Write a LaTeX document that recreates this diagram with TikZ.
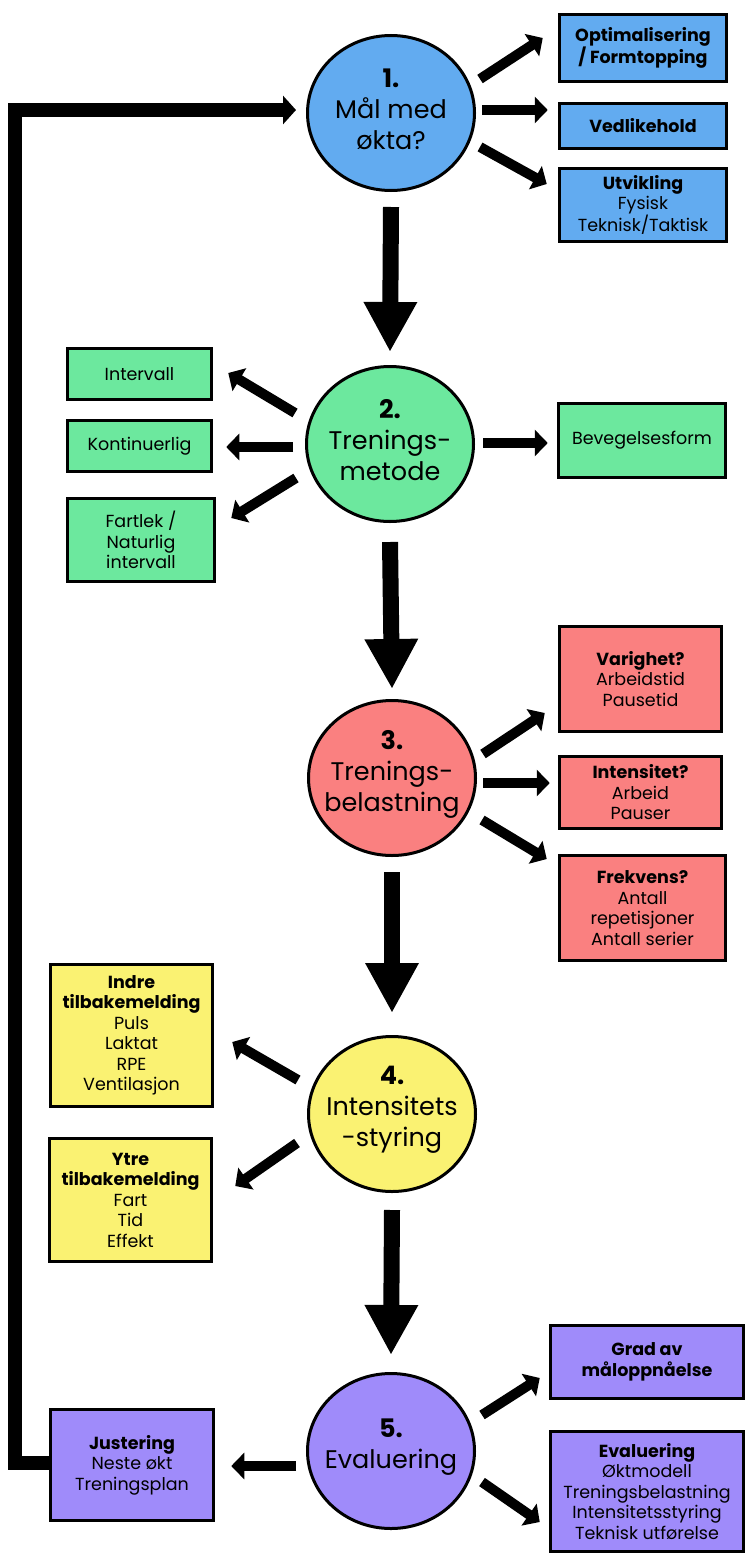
\documentclass[tikz,border=0pt]{standalone}
\usepackage{fontspec}
\setmainfont{Poppins}
\usetikzlibrary{arrows.meta,calc,shapes.geometric}
\definecolor{cblue}{RGB}{98,171,240}
\definecolor{cgreen}{RGB}{108,232,158}
\definecolor{cred}{RGB}{250,128,128}
\definecolor{cyellow}{RGB}{250,242,114}
\definecolor{cpurple}{RGB}{159,139,250}
\begin{document}
\begin{tikzpicture}[x=1pt,y=-1pt,
  circ/.style={ellipse,draw,line width=3pt,minimum width=167pt,minimum height=155pt,inner sep=0pt},
  ctext/.style={inner sep=0pt,align=center,yshift=4pt,font=\fontsize{25.5}{31}\selectfont},
  box/.style={draw,line width=3.5pt,inner sep=0pt,align=center,font=\fontsize{17.5}{20.5}\selectfont},
  bx/.style 2 args={minimum width=#1pt,minimum height=#2pt},
  arr/.style={line width=10pt,-{Triangle[length=13pt,width=26pt]}},
  bigarr/.style={line width=16pt,-{Triangle[length=50pt,width=50pt]}},
  looparr/.style={line width=14pt,line join=miter,-{Triangle[length=13pt,width=28pt]}}]
\useasboundingbox (0,0) rectangle (752,1555);
% circles
\node[circ,fill=cblue,label={[ctext]center:{\textbf{1.}\\Mål med\\økta?}}] (c1) at (391,113) {};
\node[circ,fill=cgreen,label={[ctext]center:{\textbf{2.}\\Trenings-\\metode}}] (c2) at (390,444) {};
\node[circ,fill=cred,label={[ctext]center:{\textbf{3.}\\Trenings-\\belastning}}] (c3) at (392,778) {};
\node[circ,fill=cyellow,label={[ctext]center:{\textbf{4.}\\Intensitets\\-styring}}] (c4) at (392,1114) {};
\node[circ,fill=cpurple,label={[ctext]center:{\textbf{5.}\\Evaluering}}] (c5) at (391,1451) {};
% blue boxes
\node[box,fill=cblue,bx={167}{67}] (b1) at (643,48) {\textbf{Optimalisering}\\\textbf{/ Formtopping}};
\node[box,fill=cblue,bx={167}{45}] (b2) at (643,126) {\textbf{Vedlikehold}};
\node[box,fill=cblue,bx={167}{73}] (b3) at (643,205) {\textbf{Utvikling}\\Fysisk\\Teknisk/Taktisk};
% green boxes
\node[box,fill=cgreen,bx={144}{51}] (g1) at (139.5,374) {Intervall};
\node[box,fill=cgreen,bx={144}{51}] (g2) at (139.5,446) {Kontinuerlig};
\node[box,fill=cgreen,bx={147}{83}] (g3) at (141,540) {Fartlek /\\Naturlig\\intervall};
\node[box,fill=cgreen,bx={167}{74}] (g4) at (642,440.5) {Bevegelsesform};
% red boxes
\node[box,fill=cred,bx={162}{105}] (r1) at (640.5,679) {\textbf{Varighet?}\\Arbeidstid\\Pausetid};
\node[box,fill=cred,bx={162}{72}] (r2) at (640.5,792.5) {\textbf{Intensitet?}\\Arbeid\\Pauser};
\node[box,fill=cred,bx={166}{105}] (r3) at (642.5,908) {\textbf{Frekvens?}\\Antall\\repetisjoner\\Antall serier};
% yellow boxes
\node[box,fill=cyellow,bx={162}{142}] (y1) at (131.5,1035.5) {\textbf{Indre}\\\textbf{tilbakemelding}\\Puls\\Laktat\\RPE\\Ventilasjon};
\node[box,fill=cyellow,bx={162}{123}] (y2) at (130.5,1200) {\textbf{Ytre}\\\textbf{tilbakemelding}\\Fart\\Tid\\Effekt};
% purple boxes
\node[box,fill=cpurple,bx={193}{73}] (p1) at (647,1362) {\textbf{Grad av}\\\textbf{måloppnåelse}};
\node[box,fill=cpurple,bx={193}{120}] (p2) at (647,1491.5) {\textbf{Evaluering}\\Øktmodell\\Treningsbelastning\\Intensitetsstyring\\Teknisk utførelse};
\node[box,fill=cpurple,bx={163}{111}] (pj) at (132,1465) {\textbf{Justering}\\Neste økt\\Treningsplan};
% small arrows
\draw[arr] ($(c1)+(89,-34)$) -- ($(b1.west)+(-15,-10)$);
\draw[arr] ($(c1)+(91,-3)$) -- ($(b2.west)+(-10,-16)$);
\draw[arr] ($(c1)+(89,34)$) -- ($(b3.west)+(-11,-21)$);
\draw[arr] ($(c2)+(-95,-31)$) -- ($(g1.east)+(15,-1)$);
\draw[arr] ($(c2)+(-97,3)$) -- ($(g2.east)+(13,1)$);
\draw[arr] ($(c2)+(-94,34)$) -- ($(g3.east)+(15,-22)$);
\draw[arr] ($(c2)+(93,-1)$) -- ($(g4.west)+(-9,2.5)$);
\draw[arr] ($(c3)+(91,-24)$) -- ($(r1.west)+(-13,34)$);
\draw[arr] ($(c3)+(91,5)$) -- ($(r2.west)+(-8,-9.5)$);
\draw[arr] ($(c3)+(90,42)$) -- ($(r3.west)+(-11,-49)$);
\draw[arr] ($(c4)+(-94,-34)$) -- ($(y1.east)+(18,6.5)$);
\draw[arr] ($(c4)+(-95,29)$) -- ($(y2.east)+(22,-14)$);
\draw[arr] ($(c5)+(91,-36)$) -- ($(p1.west)+(-9,16)$);
\draw[arr] ($(c5)+(91,31)$) -- ($(p2.west)+(-9,30.5)$);
\draw[arr] ($(c5)+(-95,15)$) -- ($(pj.east)+(16,1)$);
% big arrows
\draw[bigarr] ($(c1)+(0,94)$) -- ($(c2)+(0,-92)$);
\draw[bigarr] ($(c2)+(0,98)$) -- ($(c3)+(0,-89)$);
\draw[bigarr] ($(c3)+(0,94)$) -- ($(c4)+(0,-101)$);
\draw[bigarr] ($(c4)+(0,96)$) -- ($(c5)+(0,-96)$);
% loop
\draw[looparr] ($(pj.west)+(0,-2)$) -- ++(-34,0) |- ($(c1.west)+(-10,-3)$);
\end{tikzpicture}
\end{document}
